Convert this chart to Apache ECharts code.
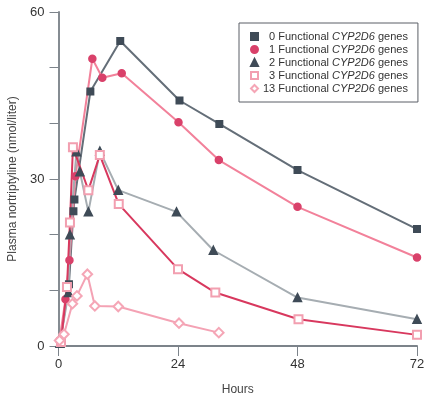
<!DOCTYPE html>
<html>
<head>
<meta charset="utf-8">
<script src="https://cdn.jsdelivr.net/npm/echarts@6/dist/echarts.min.js"></script>
<style>
  html, body { margin: 0; padding: 0; background: #fff; }
  #main { width: 432px; height: 399px; }
</style>
</head>
<body>
<div id="main"></div>
<script>
// 各基因型的采样时间与浓度
var hours0 = [0.3, 2.1, 3.0, 3.2, 6.4, 12.4, 24.3, 32.3, 48.0, 72.0];
var vals0 = [0.5, 11.1, 24.2, 26.3, 45.7, 54.8, 44.1, 39.9, 31.6, 21.0];

var hours1 = [0.2, 1.4, 2.2, 3.4, 6.8, 8.8, 12.7, 24.1, 32.2, 48.0, 72.0];
var vals1 = [1.0, 8.4, 15.4, 30.5, 51.6, 48.2, 49.0, 40.2, 33.4, 25.0, 15.9];

var hours2 = [0.3, 2.0, 2.3, 3.6, 4.3, 6.0, 8.3, 12.0, 23.7, 31.1, 48.0, 72.0];
var vals2 = [0.5, 9.6, 20.0, 34.9, 31.3, 24.1, 35.0, 28.0, 24.1, 17.2, 8.7, 4.8];

var hours3 = [0.5, 1.7, 2.3, 2.9, 6.0, 8.3, 12.1, 24.0, 31.5, 48.2, 72.0];
var vals3 = [0.7, 10.6, 22.2, 35.7, 28.0, 34.3, 25.5, 13.8, 9.6, 4.8, 2.0];

var hours4 = [0.2, 1.1, 2.8, 3.7, 5.8, 7.3, 12.0, 24.2, 32.2];
var vals4 = [1.0, 2.1, 7.6, 9.0, 12.9, 7.2, 7.1, 4.1, 2.4];

var geneCounts = ['0', '1', '2', '3', '13'];
var xTicks = [0, 24, 48, 72];
var yLabels = [0, 30, 60];

var FONT = "'Liberation Sans', Arial, sans-serif";

function zip(xs, ys) {
    var out = [];
    for (var i = 0; i < xs.length; i++) {
        out.push([xs[i], ys[i]]);
    }
    return out;
}

function legendName(n) {
    return n + ' Functional CYP2D6 genes';
}

var myChart = echarts.init(document.getElementById('main'), null, { renderer: 'canvas' });

var styles = [
    { symbol: 'rect', size: 6.5, mark: '#3f4b57', line: '#646e78' },
    { symbol: 'circle', size: 7, mark: '#d9416a', line: '#f2819a' },
    { symbol: 'triangle', size: 8, mark: '#3f4b57', line: '#a6adb2' },
    { symbol: 'emptyRect', size: 8, mark: '#f29fb0', line: '#d8385e' },
    { symbol: 'emptyDiamond', size: 9.5, mark: '#f5a6b6', line: '#f4a2b4' }
];
var datas = [
    zip(hours0, vals0),
    zip(hours1, vals1),
    zip(hours2, vals2),
    zip(hours3, vals3),
    zip(hours4, vals4)
];

var series = [];
var legendData = [];
for (var i = 0; i < styles.length; i++) {
    var st = styles[i];
    series.push({
        name: legendName(geneCounts[i]),
        type: 'line',
        data: datas[i],
        symbol: st.symbol,
        symbolSize: st.size,
        showAllSymbol: true,
        clip: false,
        lineStyle: { color: st.line, width: 2 },
        itemStyle: { color: st.mark, borderColor: st.mark, borderWidth: 1.5 },
        emphasis: { disabled: true },
        animation: false
    });
    legendData.push({ name: legendName(geneCounts[i]), icon: st.symbol });
}

var option = {
    backgroundColor: '#fff',
    textStyle: { fontFamily: FONT },
    grid: {
        left: 58.5,
        right: 15,
        top: 12,
        bottom: 53,
        containLabel: false,
        outerBoundsMode: 'none'
    },
    legend: {
        orient: 'vertical',
        left: 239,
        top: 23,
        padding: [8, 10, 8, 11],
        borderColor: '#5a5f66',
        borderWidth: 1,
        itemWidth: 7,
        itemHeight: 7,
        itemGap: 2,
        selectedMode: false,
        data: legendData,
        formatter: function(name) {
            var n = name.split(' ')[0];
            var pad = n.length === 1 ? '  ' : '';
            return '{t|' + pad + n + ' Functional }{i|CYP2D6}{t| genes}';
        },
        textStyle: {
            color: '#333',
            fontFamily: FONT,
            fontSize: 11,
            rich: {
                t: { fontSize: 11, fontFamily: FONT, color: '#333', lineHeight: 12 },
                i: { fontSize: 11, fontFamily: FONT, color: '#333', fontStyle: 'italic', lineHeight: 12 }
            }
        }
    },
    xAxis: {
        type: 'value',
        min: 0,
        max: 72,
        interval: 24,
        name: 'Hours',
        nameLocation: 'middle',
        nameGap: 38,
        nameTextStyle: { color: '#444', fontSize: 12, fontFamily: FONT },
        axisLine: { lineStyle: { color: '#7c838a', width: 2 } },
        axisTick: { show: true, inside: false, length: 10, lineStyle: { color: '#7c838a', width: 1 } },
        axisLabel: {
            color: '#333',
            fontSize: 13,
            margin: 12,
            fontFamily: FONT,
            formatter: function(v) {
                return xTicks.indexOf(v) > -1 ? String(v) : '';
            }
        },
        splitLine: { show: false }
    },
    yAxis: {
        type: 'value',
        min: 0,
        max: 60,
        interval: 10,
        name: 'Plasma nortriptyline (nmol/liter)',
        nameLocation: 'middle',
        nameGap: 40,
        nameTextStyle: { color: '#444', fontSize: 12, fontFamily: FONT },
        axisLine: { show: true, lineStyle: { color: '#858c92', width: 2 } },
        axisTick: { show: true, inside: false, length: 9, lineStyle: { color: '#7c838a', width: 1 } },
        axisLabel: {
            color: '#333',
            fontSize: 13,
            margin: 14,
            fontFamily: FONT,
            formatter: function(v) {
                return yLabels.indexOf(v) > -1 ? String(v) : '';
            }
        },
        splitLine: { show: false }
    },
    series: series
};

myChart.setOption(option);
</script>
</body>
</html>
